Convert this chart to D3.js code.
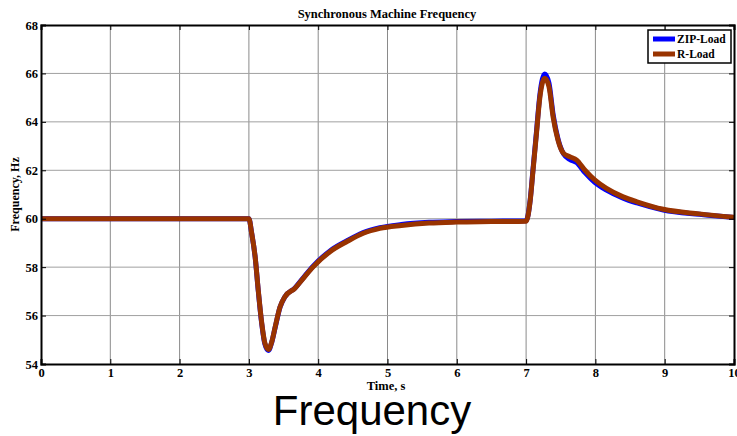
<!DOCTYPE html>
<html>
<head>
<meta charset="utf-8">
<script src="https://cdn.jsdelivr.net/npm/d3@7"></script>
<style>
  html, body { margin: 0; padding: 0; background: #fff; }
  svg { display: block; }
  .lbl { font-family: "Liberation Serif", "Times New Roman", serif; font-weight: bold; fill: #000; }
</style>
</head>
<body>
<svg id="chart" width="737" height="436"></svg>
<script>
// Time samples (s) shared by both traces
const timeS = [0, 3.0, 3.04, 3.09, 3.135, 3.185, 3.23, 3.28, 3.33, 3.38, 3.45, 3.52, 3.665, 3.785, 3.93,
  4.17, 4.41, 4.65, 4.89, 5.2, 5.6, 6.0, 6.5, 7.0, 7.06, 7.1, 7.15, 7.2, 7.27, 7.33, 7.39, 7.46, 7.54,
  7.63, 7.73, 7.85, 7.99, 8.16, 8.4, 8.6, 8.98, 9.5, 10];

// Machine frequency (Hz) with the ZIP load model
const zipLoad = [60, 60, 59.4, 58.42, 57.03, 55.66, 54.83, 54.56, 54.9, 55.52, 56.35, 56.78, 57.14, 57.56, 58.05,
  58.67, 59.08, 59.43, 59.63, 59.76, 59.85, 59.88, 59.9, 59.92, 60.8, 62.05, 63.6, 65.15, 65.98, 65.6, 64.3,
  63.3, 62.68, 62.45, 62.32, 61.9, 61.5, 61.18, 60.85, 60.65, 60.36, 60.18, 60.05];

// Machine frequency (Hz) with the resistive load model
const rLoad = [60, 60, 59.4, 58.43, 57.05, 55.7, 54.87, 54.6, 54.92, 55.54, 56.36, 56.78, 57.13, 57.54, 58.02,
  58.64, 59.05, 59.4, 59.6, 59.72, 59.82, 59.86, 59.88, 59.9, 60.77, 62.0, 63.53, 65.04, 65.8, 65.45, 64.2,
  63.25, 62.7, 62.56, 62.42, 62.0, 61.6, 61.25, 60.9, 60.7, 60.39, 60.2, 60.06];

const xTicks = [0, 1, 2, 3, 4, 5, 6, 7, 8, 9, 10];
const yTicks = [54, 56, 58, 60, 62, 64, 66, 68];

const seriesNames = ["ZIP-Load", "R-Load"];
const seriesColors = ["#0000ff", "#993300"];

const svg = d3.select("#chart");
const plotL = 41, plotR = 734, plotT = 25, plotB = 364;

const x = d3.scaleLinear().domain([0, 10]).range([plotL, plotR]);
const y = d3.scaleLinear().domain([54, 68]).range([plotB, plotT]);

// Grid
const grid = svg.append("g");
grid.selectAll("line.gx").data(xTicks.slice(1, -1)).join("line")
  .attr("x1", d => x(d)).attr("x2", d => x(d)).attr("y1", plotT).attr("y2", plotB)
  .attr("stroke", "#8a8a8a").attr("stroke-width", 1);
grid.selectAll("line.gy").data(yTicks.slice(1, -1)).join("line")
  .attr("x1", plotL).attr("x2", plotR).attr("y1", d => y(d)).attr("y2", d => y(d))
  .attr("stroke", "#a0a0a0").attr("stroke-width", 1);

// Traces
const line = d3.line().x((d, i) => x(timeS[i])).y(d => y(d)).curve(d3.curveMonotoneX);
svg.append("clipPath").attr("id", "plotclip").append("rect")
  .attr("x", plotL).attr("y", plotT).attr("width", plotR - plotL).attr("height", plotB - plotT);
const traces = svg.append("g").attr("clip-path", "url(#plotclip)");
[zipLoad, rLoad].forEach((vals, k) => {
  traces.append("path").datum(vals).attr("d", line)
    .attr("fill", "none").attr("stroke", seriesColors[k]).attr("stroke-width", 5)
    .attr("stroke-linejoin", "round").attr("stroke-linecap", "butt");
});

// Axes (box style with inward ticks on all sides)
const axB = svg.append("g").attr("transform", `translate(0,${plotB})`)
  .call(d3.axisBottom(x).tickValues(xTicks).tickSize(-5).tickPadding(8).tickFormat(d3.format("d")));
const axT = svg.append("g").attr("transform", `translate(0,${plotT})`)
  .call(d3.axisTop(x).tickValues(xTicks).tickSize(-5).tickFormat(""));
const axL = svg.append("g").attr("transform", `translate(${plotL},0)`)
  .call(d3.axisLeft(y).tickValues(yTicks).tickSize(-5).tickPadding(3).tickFormat(d3.format("d")));
const axR = svg.append("g").attr("transform", `translate(${plotR},0)`)
  .call(d3.axisRight(y).tickValues(yTicks).tickSize(-5).tickFormat(""));

[axB, axT, axL, axR].forEach(a => {
  a.select(".domain").attr("stroke", "#000").attr("stroke-width", 2);
  a.selectAll(".tick line").attr("stroke", "#000").attr("stroke-width", 1);
  a.selectAll("text").attr("class", "lbl").attr("font-size", 12.5).attr("fill", "#000");
});
axB.selectAll("text").attr("dy", "0.42em");

// Title and axis labels
svg.append("text").attr("class", "lbl").attr("x", 387).attr("y", 18)
  .attr("text-anchor", "middle").attr("font-size", 12.5).text("Synchronous Machine Frequency");
svg.append("text").attr("class", "lbl").attr("x", 386).attr("y", 390)
  .attr("text-anchor", "middle").attr("font-size", 12.5).text("Time, s");
svg.append("text").attr("class", "lbl")
  .attr("transform", `translate(19,${(plotT + plotB) / 2}) rotate(-90)`)
  .attr("text-anchor", "middle").attr("font-size", 12).text("Frequency, Hz");

// Caption
svg.append("text").attr("x", 372).attr("y", 425).attr("text-anchor", "middle")
  .attr("font-family", "'Liberation Sans', Arial, sans-serif").attr("font-size", 42)
  .attr("fill", "#000").text("Frequency");

// Legend
const lg = svg.append("g").attr("transform", "translate(648,30)");
lg.append("rect").attr("width", 83).attr("height", 33).attr("fill", "#fff")
  .attr("stroke", "#000").attr("stroke-width", 1.5);
seriesNames.forEach((name, i) => {
  const yy = 9 + i * 15;
  lg.append("line").attr("x1", 5).attr("x2", 27).attr("y1", yy).attr("y2", yy)
    .attr("stroke", seriesColors[i]).attr("stroke-width", 5);
  lg.append("text").attr("class", "lbl").attr("x", 29).attr("y", yy + 4)
    .attr("font-size", 11.5).text(name);
});
</script>
</body>
</html>
